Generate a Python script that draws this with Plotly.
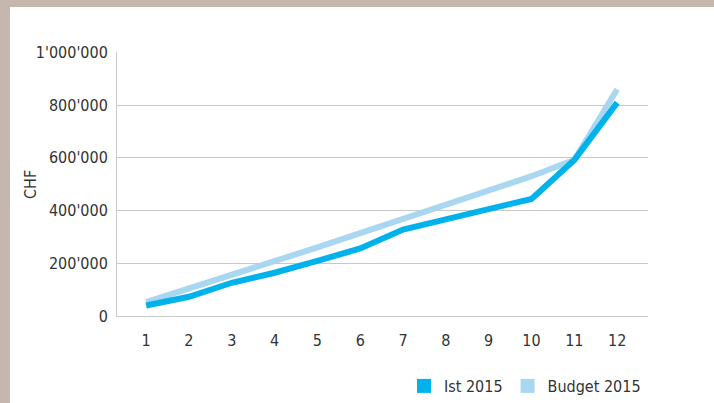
import plotly.graph_objects as go

months = [1, 2, 3, 4, 5, 6, 7, 8, 9, 10, 11, 12]
month_labels = [str(m) for m in months]
ist_2015 = [40000, 73000, 126000, 164000, 209000, 256000, 328000, 366000, 401000, 444000, 592000, 809000]
budget_2015 = [53000, 104000, 157000, 210000, 260000, 314000, 367000, 420000, 476000, 530000, 592000, 860000]
y_ticks = [0, 200000, 400000, 600000, 800000, 1000000]
y_tick_labels = ["0", "200'000", "400'000", "600'000", "800'000", "1'000'000"]
y_title = "CHF"

IST_COLOR = "#00B2EC"
BUDGET_COLOR = "#A9D6F1"
BORDER = "#C5B7AE"
GRID = "#C8C8C8"
TEXT = "#333333"
FONT = "DejaVu Sans Condensed"

fig = go.Figure()
fig.add_trace(go.Scatter(x=months, y=budget_2015, mode="lines", name="Budget 2015",
                         line=dict(color=BUDGET_COLOR, width=6), showlegend=False))
fig.add_trace(go.Scatter(x=months, y=ist_2015, mode="lines", name="Ist 2015",
                         line=dict(color=IST_COLOR, width=6), showlegend=False))
# legend entries (square swatches)
fig.add_trace(go.Scatter(x=[None], y=[None], mode="markers", name="Ist 2015",
                         marker=dict(symbol="square", size=14, color=IST_COLOR)))
fig.add_trace(go.Scatter(x=[None], y=[None], mode="markers", name="Budget 2015",
                         marker=dict(symbol="square", size=14, color=BUDGET_COLOR)))

L, R, T, B = 117, 648, 52, 316
W, H = R - L, B - T

def px_x(p):
    return (p - L) / W

def px_y(p):
    return (B - p) / H

fig.add_shape(type="rect", xref="paper", yref="paper", x0=px_x(-20), x1=px_x(10),
              y0=px_y(420), y1=px_y(-20), fillcolor=BORDER, line_width=0, layer="above")
fig.add_shape(type="rect", xref="paper", yref="paper", x0=px_x(-20), x1=px_x(730),
              y0=px_y(7), y1=px_y(-20), fillcolor=BORDER, line_width=0, layer="above")

fig.add_annotation(text=y_title, xref="paper", yref="paper", x=px_x(30), y=px_y(185),
                   xanchor="center", yanchor="middle", textangle=-90, showarrow=False,
                   font=dict(family=FONT, size=16, color=TEXT))

fig.update_layout(
    width=714, height=403,
    margin=dict(l=L, r=714 - R, t=T, b=403 - B, autoexpand=False),
    paper_bgcolor="white", plot_bgcolor="white",
    font=dict(family=FONT, size=16, color=TEXT),
    showlegend=True,
    legend=dict(orientation="h", x=px_x(404), y=px_y(369), xanchor="left", yanchor="top",
                font=dict(family=FONT, size=16, color=TEXT), itemwidth=30,
                bgcolor="rgba(0,0,0,0)"),
    xaxis=dict(range=[0.32, 12.72], tickmode="array", tickvals=months, ticktext=month_labels,
               showgrid=False, zeroline=False, showline=True, linecolor=GRID, linewidth=1,
               ticks="outside", ticklen=10, tickcolor="rgba(0,0,0,0)", automargin=False,
               tickfont=dict(family=FONT, size=16, color=TEXT)),
    yaxis=dict(range=[0, 1001000], tickmode="array", tickvals=y_ticks, ticktext=y_tick_labels,
               showgrid=True, gridcolor=GRID, gridwidth=1, zeroline=False,
               showline=True, linecolor=GRID, linewidth=1, automargin=False,
               ticks="outside", ticklen=5, tickcolor="rgba(0,0,0,0)",
               tickfont=dict(family=FONT, size=16, color=TEXT)),
)

fig.write_html("out.html", config={"displayModeBar": False},
               post_script="document.body.style.margin='0';")
